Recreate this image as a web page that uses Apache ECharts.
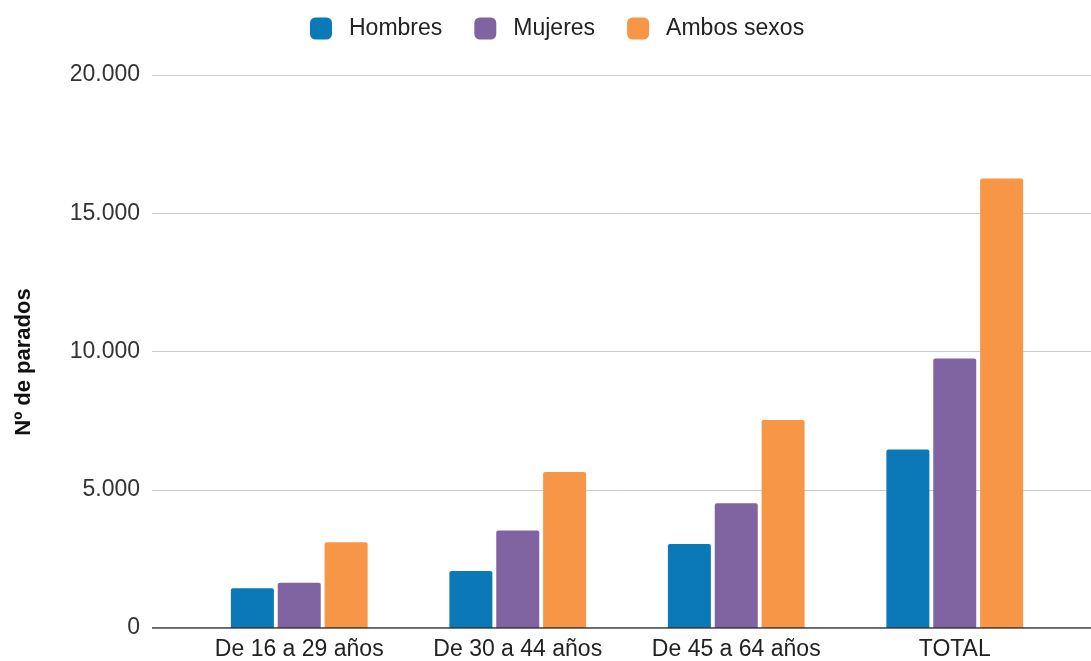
<!DOCTYPE html>
<html>
<head>
<meta charset="utf-8">
<script src="https://cdn.jsdelivr.net/npm/echarts@6/dist/echarts.min.js"></script>
<style>
  html, body { margin: 0; padding: 0; background: #fff; }
  #chart { width: 1091px; height: 661px; }
</style>
</head>
<body>
<div id="chart"></div>
<script>
// data
const categories = ["De 16 a 29 años", "De 30 a 44 años", "De 45 a 64 años", "TOTAL"];
const hombres = [1440, 2060, 3040, 6460];
const mujeres = [1640, 3530, 4510, 9750];
const ambos = [3100, 5640, 7520, 16260];
const seriesNames = ["Hombres", "Mujeres", "Ambos sexos"];
const colors = ["#0b78b7", "#8064a2", "#f79646"];

const FONT = "Liberation Sans, Arial, sans-serif";
const fmt = v => v.toLocaleString("de-DE");

const chart = echarts.init(document.getElementById("chart"));

const barStyle = (i) => ({
  type: "bar",
  name: seriesNames[i],
  xAxisIndex: 1,
  yAxisIndex: 1,
  barWidth: 43,
  barGap: "9%",
  itemStyle: { color: colors[i], borderRadius: [2, 2, 0, 0] },
});

chart.setOption({
  animation: false,
  textStyle: { fontFamily: FONT },
  legend: {
    top: 12,
    left: 305,
    itemWidth: 22,
    itemHeight: 22,
    itemGap: 32,
    icon: "roundRect",
    data: seriesNames,
    textStyle: { fontSize: 23, color: "#222", fontFamily: FONT, padding: [0, 0, 0, 12] },
  },
  // y axis title, placed by hand (sits a bit below the plot centre)
  graphic: [{
    type: "text",
    x: 24, y: 362,
    rotation: Math.PI / 2,
    style: {
      text: "Nº de parados",
      font: "bold 22px " + FONT,
      fill: "#111",
      align: "center",
      verticalAlign: "middle",
    },
  }],
  grid: [
    // wide grid for gridlines + axis line
    { left: 152, right: 0, top: 75, bottom: 33 },
    // narrower grid holding the bars
    { left: 190, right: 27, top: 75, bottom: 33 },
  ],
  xAxis: [
    {
      gridIndex: 0, type: "value", min: 0, max: 1,
      axisLine: { show: false }, axisTick: { show: false },
      axisLabel: { show: false }, splitLine: { show: false },
    },
    {
      gridIndex: 1, type: "category", data: categories,
      axisLine: { show: false }, axisTick: { show: false },
      axisLabel: { interval: 0, fontSize: 23, color: "#222", margin: 10, fontFamily: FONT },
    },
  ],
  yAxis: [
    {
      gridIndex: 0, type: "value", min: 0, max: 20000, interval: 5000,
      axisLine: { show: false }, axisTick: { show: false },
      axisLabel: { fontSize: 23, color: "#333", margin: 12, formatter: fmt, fontFamily: FONT },
      splitLine: { lineStyle: { color: "#cccccc", width: 1 } },
    },
    {
      gridIndex: 1, type: "value", min: 0, max: 20000, interval: 5000,
      show: false, splitLine: { show: false },
    },
  ],
  series: [
    // axis baseline across the full width
    {
      type: "line", xAxisIndex: 0, yAxisIndex: 0,
      data: [[0, 0], [1, 0]], symbol: "none", silent: true,
      lineStyle: { color: "#333", width: 1.5 },
      z: 5,
    },
    Object.assign(barStyle(0), { data: hombres }),
    Object.assign(barStyle(1), { data: mujeres }),
    Object.assign(barStyle(2), { data: ambos }),
  ],
});
</script>
</body>
</html>
